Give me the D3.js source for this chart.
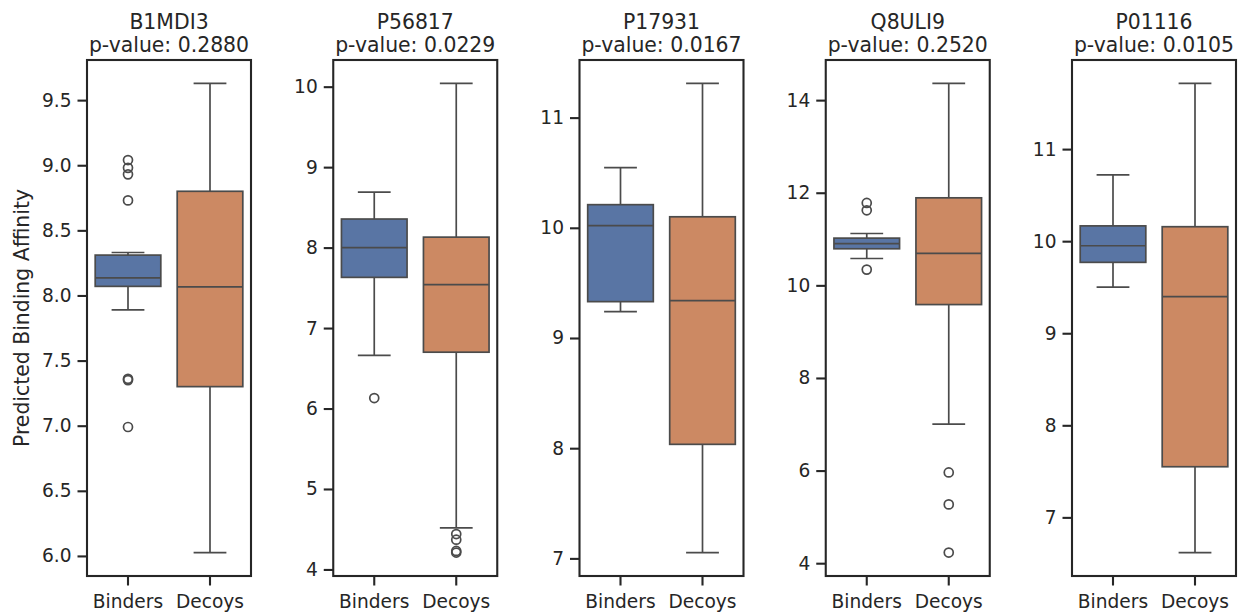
<!DOCTYPE html>
<html>
<head>
<meta charset="utf-8">
<script src="https://cdn.jsdelivr.net/npm/d3@7"></script>
<style>
  html, body { margin: 0; padding: 0; background: #ffffff; }
  svg { display: block; }
  text { font-family: "DejaVu Sans", sans-serif; fill: #262626; }
</style>
</head>
<body>
<svg id="chart" width="1241" height="614"></svg>
<script>
// ---- data ----
const proteins = ["B1MDI3", "P56817", "P17931", "Q8ULI9", "P01116"];
const pValues = ["0.2880", "0.0229", "0.0167", "0.2520", "0.0105"];
const categories = ["Binders", "Decoys"];
// [lower whisker, q1, median, q3, upper whisker]
const binderStats = [
  [7.89, 8.07, 8.135, 8.31, 8.33],
  [6.66, 7.63, 8.00, 8.355, 8.69],
  [9.24, 9.33, 10.02, 10.21, 10.546],
  [10.58, 10.79, 10.90, 11.02, 11.12],
  [9.50, 9.77, 9.95, 10.166, 10.72]
];
const decoyStats = [
  [6.026, 7.30, 8.066, 8.80, 9.628],
  [4.516, 6.70, 7.54, 8.13, 10.04],
  [7.053, 8.035, 9.34, 10.10, 11.31],
  [7.005, 9.585, 10.69, 11.89, 14.36],
  [6.618, 7.55, 9.397, 10.157, 11.713]
];
const binderOutliers = [
  [9.04, 8.98, 8.93, 8.73, 7.36, 7.35, 6.99],
  [6.13],
  [],
  [11.78, 11.62, 10.34],
  []
];
const decoyOutliers = [
  [],
  [4.44, 4.37, 4.23, 4.21],
  [],
  [5.96, 5.27, 4.23],
  []
];
const yTicks = [
  [6.0, 6.5, 7.0, 7.5, 8.0, 8.5, 9.0, 9.5],
  [4, 5, 6, 7, 8, 9, 10],
  [7, 8, 9, 10, 11],
  [4, 6, 8, 10, 12, 14],
  [7, 8, 9, 10, 11]
];
const yTickLabels = [
  ["6.0", "6.5", "7.0", "7.5", "8.0", "8.5", "9.0", "9.5"],
  ["4", "5", "6", "7", "8", "9", "10"],
  ["7", "8", "9", "10", "11"],
  ["4", "6", "8", "10", "12", "14"],
  ["7", "8", "9", "10", "11"]
];
const yLabel = "Predicted Binding Affinity";

// ---- style / layout ----
const fills = ["#5975a4", "#cc8963"];
const lineColor = "#4b4b4b";
const spineColor = "#262626";
const panelLeft0 = 87, panelStep = 246.25, panelW = 164;
const plotTop = 60, plotBottom = 576;
const tickFont = 18.6, titleFont = 20.4;

const svg = d3.select("#chart");

proteins.forEach((prot, i) => {
  const left = panelLeft0 + i * panelStep;
  const g = svg.append("g").attr("transform", `translate(${left},0)`);

  const statsList = [binderStats[i], decoyStats[i]];
  const outList = [binderOutliers[i], decoyOutliers[i]];
  const allVals = statsList.flat().concat(outList.flat());
  const [mn, mx] = d3.extent(allVals);
  const pad = (mx - mn) * 0.05;

  const y = d3.scaleLinear().domain([mn - pad, mx + pad]).range([plotBottom, plotTop]);
  const x = d3.scaleBand().domain(categories).range([0, panelW]).padding(0);
  const bw = x.bandwidth() * 0.8;

  categories.forEach((cat, c) => {
    const s = statsList[c];
    const cx = x(cat) + x.bandwidth() / 2;
    const bg = g.append("g");
    bg.append("line").attr("x1", cx).attr("x2", cx).attr("y1", y(s[1])).attr("y2", y(s[0]))
      .attr("stroke", lineColor).attr("stroke-width", 1.7);
    bg.append("line").attr("x1", cx).attr("x2", cx).attr("y1", y(s[3])).attr("y2", y(s[4]))
      .attr("stroke", lineColor).attr("stroke-width", 1.7);
    [s[0], s[4]].forEach(v => {
      bg.append("line").attr("x1", cx - bw / 4).attr("x2", cx + bw / 4)
        .attr("y1", y(v)).attr("y2", y(v))
        .attr("stroke", lineColor).attr("stroke-width", 1.7);
    });
    bg.append("rect").attr("x", cx - bw / 2).attr("width", bw)
      .attr("y", y(s[3])).attr("height", y(s[1]) - y(s[3]))
      .attr("fill", fills[c]).attr("stroke", lineColor).attr("stroke-width", 1.7);
    bg.append("line").attr("x1", cx - bw / 2).attr("x2", cx + bw / 2)
      .attr("y1", y(s[2])).attr("y2", y(s[2]))
      .attr("stroke", lineColor).attr("stroke-width", 1.7);
    bg.selectAll("circle.f").data(outList[c]).enter().append("circle")
      .attr("class", "f")
      .attr("cx", cx).attr("cy", d => y(d)).attr("r", 4.5)
      .attr("fill", "none").attr("stroke", lineColor).attr("stroke-width", 1.7);
  });

  const yAxis = d3.axisLeft(y).tickValues(yTicks[i])
    .tickFormat((d, k) => yTickLabels[i][k]).tickSize(9.5).tickPadding(6).tickSizeOuter(0);
  const ya = g.append("g").call(yAxis);
  const xAxis = d3.axisBottom(x).tickSize(9.5).tickPadding(9.5).tickSizeOuter(0);
  const xa = g.append("g").attr("transform", `translate(0,${plotBottom})`).call(xAxis);
  [ya, xa].forEach(a => {
    a.select(".domain").remove();
    a.selectAll(".tick line").attr("stroke", spineColor).attr("stroke-width", 2.1);
    a.selectAll(".tick text").attr("font-size", tickFont)
      .attr("font-family", "DejaVu Sans").attr("fill", "#262626");
  });

  g.append("rect").attr("x", 0).attr("y", plotTop).attr("width", panelW).attr("height", plotBottom - plotTop)
    .attr("fill", "none").attr("stroke", spineColor).attr("stroke-width", 2.1);

  const t = g.append("text").attr("text-anchor", "middle").attr("font-size", titleFont);
  t.append("tspan").attr("x", panelW / 2).attr("y", 29).text(prot);
  t.append("tspan").attr("x", panelW / 2).attr("y", 52).text("p-value: " + pValues[i]);
});

svg.append("text")
  .attr("transform", `translate(29,${(plotTop + plotBottom) / 2}) rotate(-90)`)
  .attr("text-anchor", "middle").attr("font-size", titleFont)
  .text(yLabel);
</script>
</body>
</html>
